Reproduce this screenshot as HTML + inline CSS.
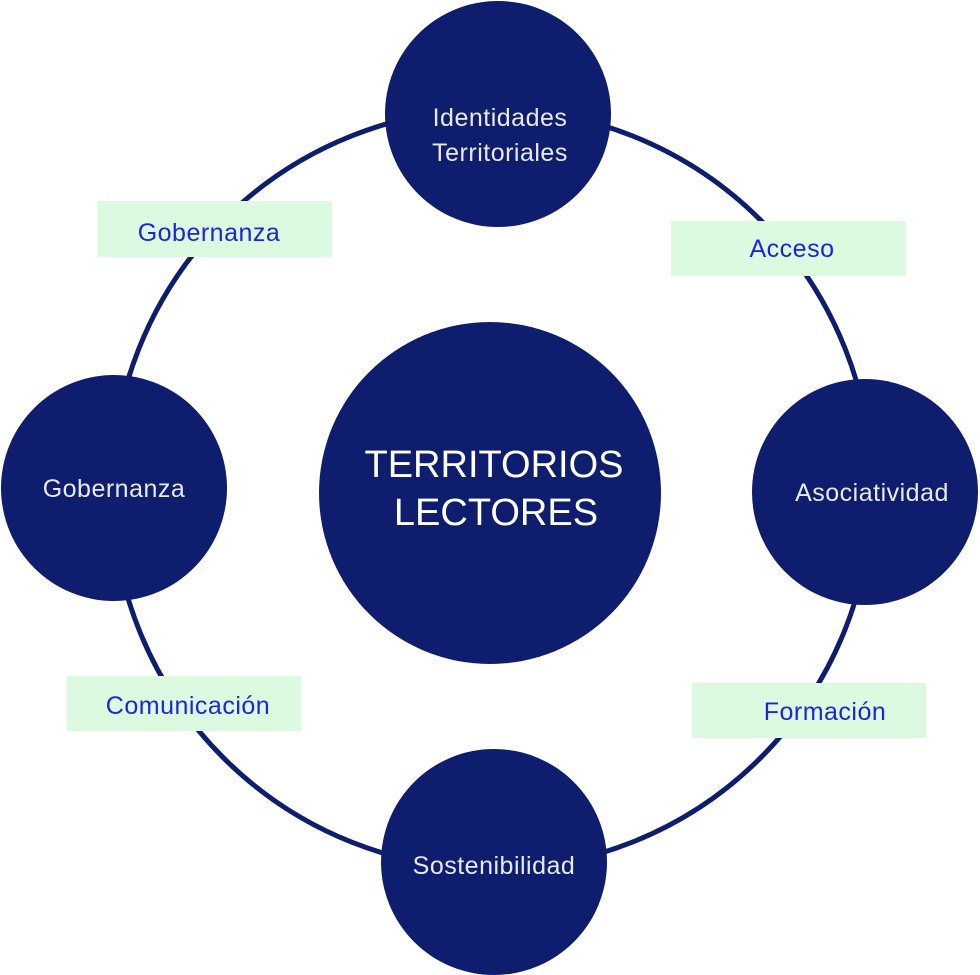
<!DOCTYPE html>
<html><head><meta charset="utf-8"><style>
html,body{margin:0;padding:0;background:#fff;}
</style></head><body>
<svg width="980" height="975" viewBox="0 0 980 975" xmlns="http://www.w3.org/2000/svg" style="display:block">
<circle cx="492" cy="489" r="380" fill="none" stroke="#0f1d6e" stroke-width="5"/>
<g fill="#0f1d6e">
<circle cx="498" cy="114" r="113"/>
<circle cx="494" cy="862" r="113"/>
<circle cx="114" cy="488" r="113"/>
<circle cx="865" cy="492" r="113"/>
<circle cx="490" cy="493" r="171"/>
</g>
<g fill="#dcfadf">
<rect x="98" y="201" width="234" height="56"/>
<rect x="671" y="221" width="235" height="55"/>
<rect x="67" y="676" width="234" height="55"/>
<rect x="692" y="683" width="234" height="55"/>
</g>
<g font-family="Liberation Sans, sans-serif" font-size="25" fill="#1f22e0" text-anchor="middle" letter-spacing="0.5">
<text x="209" y="241">Gobernanza</text>
<text x="792" y="257">Acceso</text>
<text x="188" y="714">Comunicación</text>
<text x="825" y="720">Formación</text>
</g>
<g font-family="Liberation Sans, sans-serif" font-size="25" fill="#e8eaf2" text-anchor="middle" letter-spacing="0.5">
<text x="500" y="126">Identidades</text>
<text x="500" y="161">Territoriales</text>
<text x="114" y="497">Gobernanza</text>
<text x="872" y="501">Asociatividad</text>
<text x="494" y="874">Sostenibilidad</text>
</g>
<g font-family="Liberation Sans, sans-serif" font-size="38" fill="#ffffff" text-anchor="middle">
<text x="494" y="477">TERRITORIOS</text>
<text x="496" y="525">LECTORES</text>
</g>
</svg>
</body></html>
